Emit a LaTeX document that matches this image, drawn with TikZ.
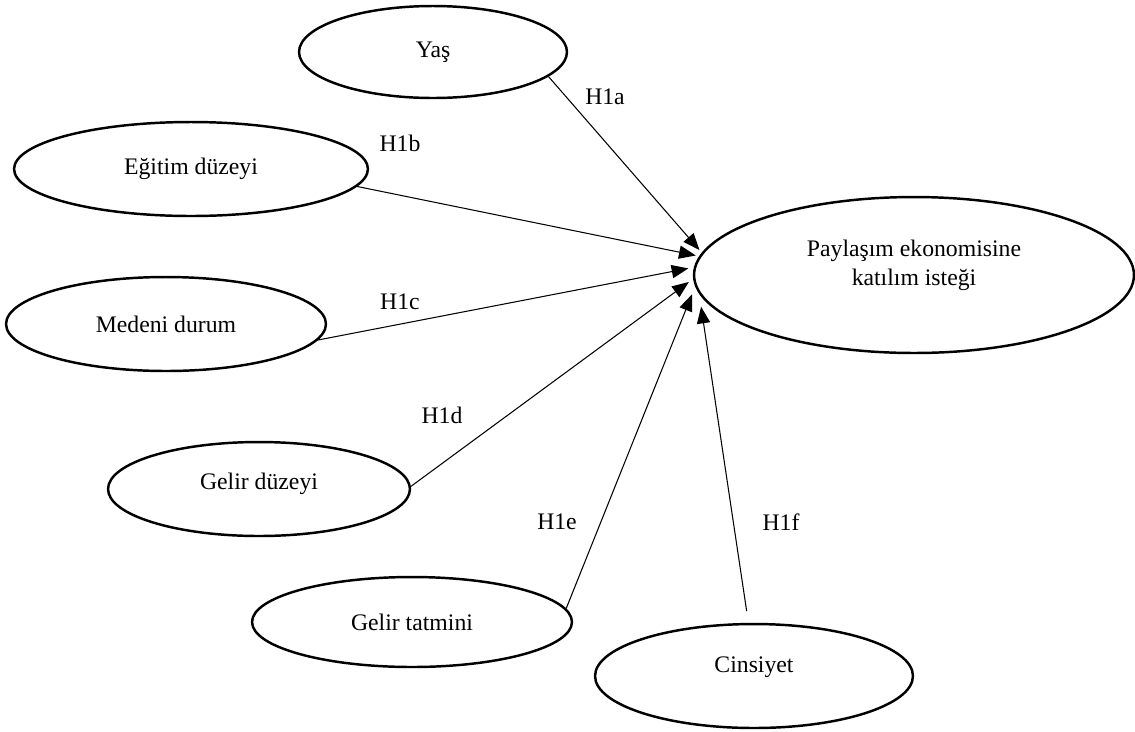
\documentclass[tikz,border=0pt]{standalone}
\usepackage{fontspec}
\setmainfont{Liberation Serif}
\usetikzlibrary{shapes.geometric, arrows.meta}

\begin{document}
\begin{tikzpicture}[
    x=0.02cm, y=-0.02cm,
    factor/.style={ellipse, draw, line width=1.4pt, inner sep=0pt, align=center,
        font=\fontsize{13.5}{17}\selectfont},
    hlabel/.style={font=\fontsize{13.5}{16}\selectfont, inner sep=1pt},
    hyp/.style={-{Triangle[length=9.5pt,width=7.5pt]}, line width=0.6pt, shorten >=2pt}
]
    \useasboundingbox (0,0) rectangle (1135,731);

    \node[factor, minimum width=5.36cm, minimum height=1.84cm] (yas) at (433,52) {Yaş};
    \node[factor, minimum width=7.08cm, minimum height=1.88cm] (egitim) at (191,169) {Eğitim düzeyi};
    \node[factor, minimum width=6.4cm, minimum height=1.88cm] (medeni) at (166,324) {Medeni durum};
    \node[factor, minimum width=6.04cm, minimum height=1.88cm, text depth=9pt] (gelirduz) at (259,489) {Gelir düzeyi};
    \node[factor, minimum width=6.4cm, minimum height=1.8cm] (tatmin) at (412,622) {Gelir tatmini};
    \node[factor, minimum width=6.36cm, minimum height=2.08cm, text depth=12.5pt] (cinsiyet) at (754,676) {Cinsiyet};
    \node[factor, minimum width=8.8cm, minimum height=3.12cm, text depth=14pt] (katilim) at (914,275) {Paylaşım ekonomisine\\katılım isteği};

    \node[hlabel] (h1a) at (605,97) {H1a};
    \node[hlabel] (h1b) at (400,143) {H1b};
    \node[hlabel] (h1c) at (400,302) {H1c};
    \node[hlabel] (h1d) at (442,415) {H1d};
    \node[hlabel] (h1e) at (557,522) {H1e};
    \node[hlabel] (h1f) at (781,522) {H1f};

    \draw[hyp] (yas.-12) -- (katilim.174.1);
    \draw[hyp] (egitim.-6.6) -- (katilim.175.9);
    \draw[hyp, shorten >=3.2pt] (medeni.-6.8) -- (katilim.178.7);
    \draw[hyp, shorten >=3pt] (gelirduz.1.5) -- (katilim.181.3);
    \draw[hyp, shorten >=4.8pt] (tatmin.5.3) -- (katilim.183.4);
    % gap above the lower ellipse
    \draw[hyp, shorten >=7.4pt, shorten <=6.8pt] (cinsiyet.96.2) -- (katilim.185.4);
\end{tikzpicture}
\end{document}
